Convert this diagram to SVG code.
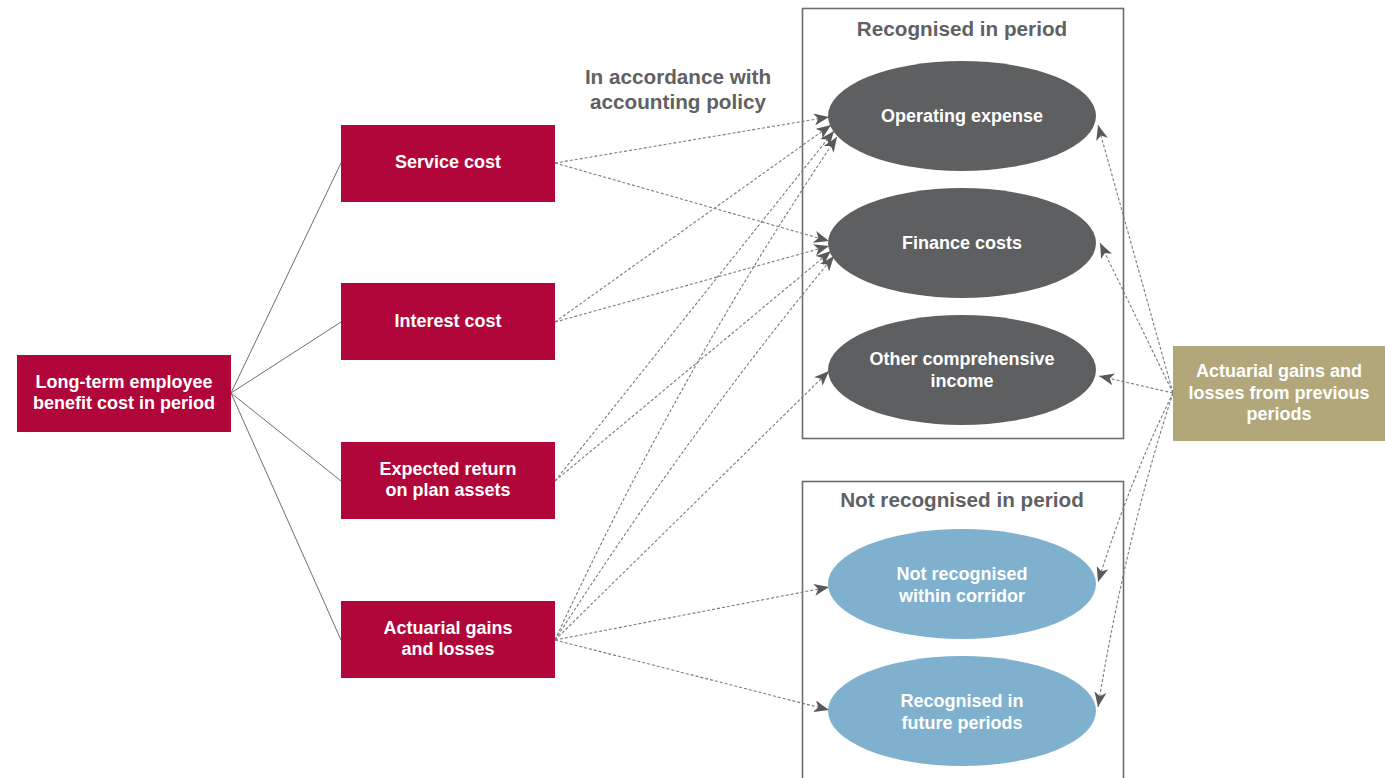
<svg xmlns="http://www.w3.org/2000/svg" width="1385" height="778" viewBox="0 0 1385 778">
<style>
.red{fill:#b1063a}
.gray{fill:#5e5f61}
.blue{fill:#7fb0ce}
.gold{fill:#b2a77b}
.frame{fill:none;stroke:#6d6e70;stroke-width:1.6}
.t{font-family:"Liberation Sans",Arial,sans-serif;font-weight:bold;font-size:18px;fill:#ffffff;text-anchor:middle}
.h{font-family:"Liberation Sans",Arial,sans-serif;font-weight:bold;font-size:20.7px;fill:#606163;text-anchor:middle}
.solid{fill:none;stroke:#6d6e70;stroke-width:1}
.dash{fill:none;stroke:#7a7b7d;stroke-width:1.1;stroke-dasharray:3 2;marker-end:url(#arr)}
</style>
<defs>
<marker id="arr" markerUnits="userSpaceOnUse" markerWidth="16" markerHeight="12" refX="15" refY="6" orient="auto">
<path d="M0,0 L15,6 L0,12 L4,6 z" fill="#58595b"/>
</marker>
</defs>
<rect width="1385" height="778" fill="#ffffff"/>

<g id="frame-recognised">
<rect class="frame" x="802.5" y="8.5" width="321" height="430"/>
<text class="h" x="962" y="36">Recognised in period</text>
</g>
<g id="frame-not-recognised">
<rect class="frame" x="802.5" y="481.5" width="321" height="310"/>
<text class="h" x="962" y="507">Not recognised in period</text>
</g>
<g id="label-policy">
<text class="h" x="678" y="84">In accordance with</text>
<text class="h" x="678" y="109">accounting policy</text>
</g>

<g id="connectors">
<line class="solid" x1="231" y1="393" x2="341" y2="163"/>
<line class="solid" x1="231" y1="393" x2="341" y2="322"/>
<line class="solid" x1="231" y1="393" x2="341" y2="481"/>
<line class="solid" x1="231" y1="393" x2="341" y2="640"/>

<path class="dash" d="M555,163 L829,117"/>
<path class="dash" d="M555,163 L829,241"/>
<path class="dash" d="M555,322 L831,125"/>
<path class="dash" d="M555,322 L829,246"/>
<path class="dash" d="M555,481 L834,131"/>
<path class="dash" d="M555,481 L831,251"/>
<path class="dash" d="M555,640 Q680,370 837,137"/>
<path class="dash" d="M555,640 Q690,430 834,256"/>
<path class="dash" d="M555,640 L829,371"/>
<path class="dash" d="M555,640 L829,587"/>
<path class="dash" d="M555,640 L829,710"/>

<path class="dash" d="M1173,393 L1098,125"/>
<path class="dash" d="M1173,393 L1100,243"/>
<path class="dash" d="M1173,393 L1099,376"/>
<path class="dash" d="M1173,393 Q1130,480 1098,582"/>
<path class="dash" d="M1173,393 Q1125,540 1098,707"/>
</g>

<g id="node-long-term">
<rect class="red" x="17" y="355" width="214" height="77"/>
<text class="t" x="124" y="388">Long-term employee</text>
<text class="t" x="124" y="409">benefit cost in period</text>
</g>
<g id="node-service">
<rect class="red" x="341" y="125" width="214" height="77"/>
<text class="t" x="448" y="168">Service cost</text>
</g>
<g id="node-interest">
<rect class="red" x="341" y="283" width="214" height="77"/>
<text class="t" x="448" y="327">Interest cost</text>
</g>
<g id="node-expected">
<rect class="red" x="341" y="442" width="214" height="77"/>
<text class="t" x="448" y="475">Expected return</text>
<text class="t" x="448" y="496">on plan assets</text>
</g>
<g id="node-actuarial">
<rect class="red" x="341" y="601" width="214" height="77"/>
<text class="t" x="448" y="634">Actuarial gains</text>
<text class="t" x="448" y="655">and losses</text>
</g>

<g id="node-opex">
<ellipse class="gray" cx="962" cy="116" rx="134" ry="55"/>
<text class="t" x="962" y="122">Operating expense</text>
</g>
<g id="node-finance">
<ellipse class="gray" cx="962" cy="243" rx="134" ry="55"/>
<text class="t" x="962" y="249">Finance costs</text>
</g>
<g id="node-oci">
<ellipse class="gray" cx="962" cy="370" rx="134" ry="55"/>
<text class="t" x="962" y="365">Other comprehensive</text>
<text class="t" x="962" y="387">income</text>
</g>
<g id="node-not-recognised">
<ellipse class="blue" cx="962" cy="584" rx="134" ry="55"/>
<text class="t" x="962" y="580">Not recognised</text>
<text class="t" x="962" y="602">within corridor</text>
</g>
<g id="node-future">
<ellipse class="blue" cx="962" cy="711" rx="134" ry="55"/>
<text class="t" x="962" y="707">Recognised in</text>
<text class="t" x="962" y="729">future periods</text>
</g>

<g id="node-previous">
<rect class="gold" x="1173" y="346" width="212" height="95"/>
<text class="t" x="1279" y="377">Actuarial gains and</text>
<text class="t" x="1279" y="399">losses from previous</text>
<text class="t" x="1279" y="420">periods</text>
</g>
</svg>
